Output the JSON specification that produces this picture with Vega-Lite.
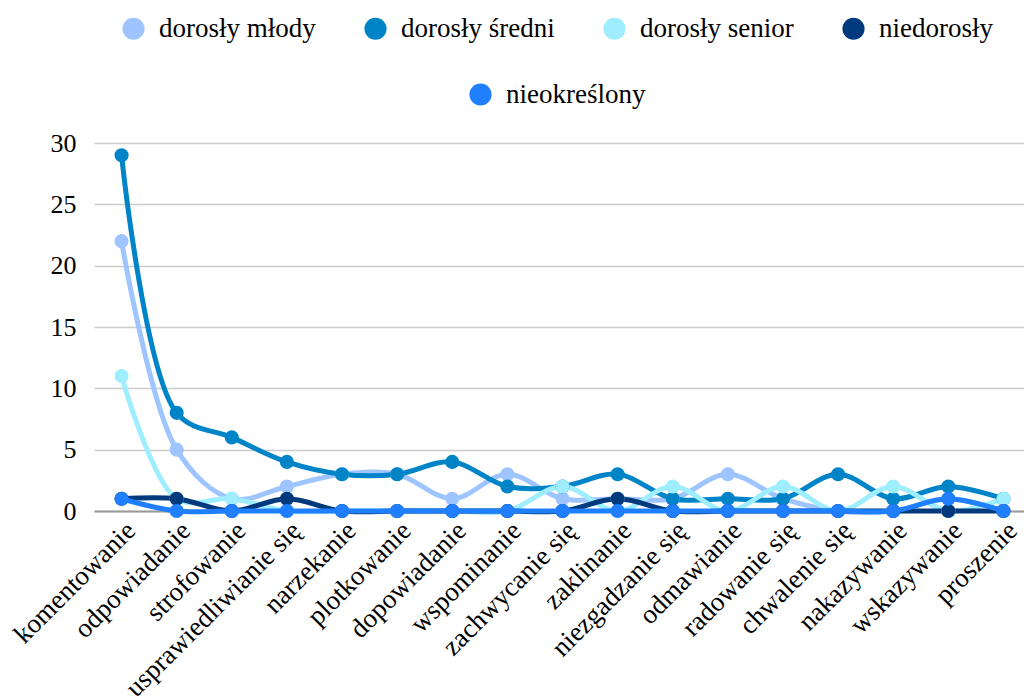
{
  "$schema": "https://vega.github.io/schema/vega-lite/v6.json",
  "width": 937,
  "height": 368,
  "autosize": {"type": "none"},
  "padding": {"left": 94, "top": 143, "right": 0, "bottom": 189},
  "background": "white",
  "config": {
    "font": "Liberation Serif",
    "view": {"stroke": null},
    "axis": {"labelFont": "Liberation Serif", "labelColor": "#000000"},
    "legend": {"labelFont": "Liberation Serif", "labelColor": "#000000"}
  },
  "data": {
    "values": [
      {"kategoria": "komentowanie", "grupa": "dorosły młody", "wartosc": 22},
      {"kategoria": "odpowiadanie", "grupa": "dorosły młody", "wartosc": 5},
      {"kategoria": "strofowanie", "grupa": "dorosły młody", "wartosc": 1},
      {"kategoria": "usprawiedliwianie się", "grupa": "dorosły młody", "wartosc": 2},
      {"kategoria": "narzekanie", "grupa": "dorosły młody", "wartosc": 3},
      {"kategoria": "plotkowanie", "grupa": "dorosły młody", "wartosc": 3},
      {"kategoria": "dopowiadanie", "grupa": "dorosły młody", "wartosc": 1},
      {"kategoria": "wspominanie", "grupa": "dorosły młody", "wartosc": 3},
      {"kategoria": "zachwycanie się", "grupa": "dorosły młody", "wartosc": 1},
      {"kategoria": "zaklinanie", "grupa": "dorosły młody", "wartosc": 1},
      {"kategoria": "niezgadzanie się", "grupa": "dorosły młody", "wartosc": 1},
      {"kategoria": "odmawianie", "grupa": "dorosły młody", "wartosc": 3},
      {"kategoria": "radowanie się", "grupa": "dorosły młody", "wartosc": 1},
      {"kategoria": "chwalenie się", "grupa": "dorosły młody", "wartosc": 0},
      {"kategoria": "nakazywanie", "grupa": "dorosły młody", "wartosc": 0},
      {"kategoria": "wskazywanie", "grupa": "dorosły młody", "wartosc": 1},
      {"kategoria": "proszenie", "grupa": "dorosły młody", "wartosc": 0},

      {"kategoria": "komentowanie", "grupa": "dorosły średni", "wartosc": 29},
      {"kategoria": "odpowiadanie", "grupa": "dorosły średni", "wartosc": 8},
      {"kategoria": "strofowanie", "grupa": "dorosły średni", "wartosc": 6},
      {"kategoria": "usprawiedliwianie się", "grupa": "dorosły średni", "wartosc": 4},
      {"kategoria": "narzekanie", "grupa": "dorosły średni", "wartosc": 3},
      {"kategoria": "plotkowanie", "grupa": "dorosły średni", "wartosc": 3},
      {"kategoria": "dopowiadanie", "grupa": "dorosły średni", "wartosc": 4},
      {"kategoria": "wspominanie", "grupa": "dorosły średni", "wartosc": 2},
      {"kategoria": "zachwycanie się", "grupa": "dorosły średni", "wartosc": 2},
      {"kategoria": "zaklinanie", "grupa": "dorosły średni", "wartosc": 3},
      {"kategoria": "niezgadzanie się", "grupa": "dorosły średni", "wartosc": 1},
      {"kategoria": "odmawianie", "grupa": "dorosły średni", "wartosc": 1},
      {"kategoria": "radowanie się", "grupa": "dorosły średni", "wartosc": 1},
      {"kategoria": "chwalenie się", "grupa": "dorosły średni", "wartosc": 3},
      {"kategoria": "nakazywanie", "grupa": "dorosły średni", "wartosc": 1},
      {"kategoria": "wskazywanie", "grupa": "dorosły średni", "wartosc": 2},
      {"kategoria": "proszenie", "grupa": "dorosły średni", "wartosc": 1},

      {"kategoria": "komentowanie", "grupa": "dorosły senior", "wartosc": 11},
      {"kategoria": "odpowiadanie", "grupa": "dorosły senior", "wartosc": 1},
      {"kategoria": "strofowanie", "grupa": "dorosły senior", "wartosc": 1},
      {"kategoria": "usprawiedliwianie się", "grupa": "dorosły senior", "wartosc": 0},
      {"kategoria": "narzekanie", "grupa": "dorosły senior", "wartosc": 0},
      {"kategoria": "plotkowanie", "grupa": "dorosły senior", "wartosc": 0},
      {"kategoria": "dopowiadanie", "grupa": "dorosły senior", "wartosc": 0},
      {"kategoria": "wspominanie", "grupa": "dorosły senior", "wartosc": 0},
      {"kategoria": "zachwycanie się", "grupa": "dorosły senior", "wartosc": 2},
      {"kategoria": "zaklinanie", "grupa": "dorosły senior", "wartosc": 0},
      {"kategoria": "niezgadzanie się", "grupa": "dorosły senior", "wartosc": 2},
      {"kategoria": "odmawianie", "grupa": "dorosły senior", "wartosc": 0},
      {"kategoria": "radowanie się", "grupa": "dorosły senior", "wartosc": 2},
      {"kategoria": "chwalenie się", "grupa": "dorosły senior", "wartosc": 0},
      {"kategoria": "nakazywanie", "grupa": "dorosły senior", "wartosc": 2},
      {"kategoria": "wskazywanie", "grupa": "dorosły senior", "wartosc": 0},
      {"kategoria": "proszenie", "grupa": "dorosły senior", "wartosc": 1},

      {"kategoria": "komentowanie", "grupa": "niedorosły", "wartosc": 1},
      {"kategoria": "odpowiadanie", "grupa": "niedorosły", "wartosc": 1},
      {"kategoria": "strofowanie", "grupa": "niedorosły", "wartosc": 0},
      {"kategoria": "usprawiedliwianie się", "grupa": "niedorosły", "wartosc": 1},
      {"kategoria": "narzekanie", "grupa": "niedorosły", "wartosc": 0},
      {"kategoria": "plotkowanie", "grupa": "niedorosły", "wartosc": 0},
      {"kategoria": "dopowiadanie", "grupa": "niedorosły", "wartosc": 0},
      {"kategoria": "wspominanie", "grupa": "niedorosły", "wartosc": 0},
      {"kategoria": "zachwycanie się", "grupa": "niedorosły", "wartosc": 0},
      {"kategoria": "zaklinanie", "grupa": "niedorosły", "wartosc": 1},
      {"kategoria": "niezgadzanie się", "grupa": "niedorosły", "wartosc": 0},
      {"kategoria": "odmawianie", "grupa": "niedorosły", "wartosc": 0},
      {"kategoria": "radowanie się", "grupa": "niedorosły", "wartosc": 0},
      {"kategoria": "chwalenie się", "grupa": "niedorosły", "wartosc": 0},
      {"kategoria": "nakazywanie", "grupa": "niedorosły", "wartosc": 0},
      {"kategoria": "wskazywanie", "grupa": "niedorosły", "wartosc": 0},
      {"kategoria": "proszenie", "grupa": "niedorosły", "wartosc": 0},

      {"kategoria": "komentowanie", "grupa": "nieokreślony", "wartosc": 1},
      {"kategoria": "odpowiadanie", "grupa": "nieokreślony", "wartosc": 0},
      {"kategoria": "strofowanie", "grupa": "nieokreślony", "wartosc": 0},
      {"kategoria": "usprawiedliwianie się", "grupa": "nieokreślony", "wartosc": 0},
      {"kategoria": "narzekanie", "grupa": "nieokreślony", "wartosc": 0},
      {"kategoria": "plotkowanie", "grupa": "nieokreślony", "wartosc": 0},
      {"kategoria": "dopowiadanie", "grupa": "nieokreślony", "wartosc": 0},
      {"kategoria": "wspominanie", "grupa": "nieokreślony", "wartosc": 0},
      {"kategoria": "zachwycanie się", "grupa": "nieokreślony", "wartosc": 0},
      {"kategoria": "zaklinanie", "grupa": "nieokreślony", "wartosc": 0},
      {"kategoria": "niezgadzanie się", "grupa": "nieokreślony", "wartosc": 0},
      {"kategoria": "odmawianie", "grupa": "nieokreślony", "wartosc": 0},
      {"kategoria": "radowanie się", "grupa": "nieokreślony", "wartosc": 0},
      {"kategoria": "chwalenie się", "grupa": "nieokreślony", "wartosc": 0},
      {"kategoria": "nakazywanie", "grupa": "nieokreślony", "wartosc": 0},
      {"kategoria": "wskazywanie", "grupa": "nieokreślony", "wartosc": 1},
      {"kategoria": "proszenie", "grupa": "nieokreślony", "wartosc": 0}
    ]
  },
  "encoding": {
    "x": {
      "field": "kategoria",
      "type": "nominal",
      "sort": null,
      "title": null,
      "axis": {
        "labelAngle": -45,
        "labelFont": "Liberation Serif",
        "labelFontSize": 27,
        "labelLimit": 400,
        "ticks": false,
        "domainColor": "#9a9a9a",
        "domainWidth": 2,
        "labelPadding": 6,
        "grid": false
      }
    },
    "y": {
      "field": "wartosc",
      "type": "quantitative",
      "title": null,
      "scale": {"domain": [0, 30], "nice": false},
      "axis": {
        "values": [0, 5, 10, 15, 20, 25, 30],
        "labelFont": "Liberation Serif",
        "labelFontSize": 26,
        "ticks": false,
        "domain": false,
        "labelPadding": 18,
        "gridColor": "#cccccc",
        "gridWidth": 1.5
      }
    }
  },
  "layer": [
    {
      "transform": [{"filter": "datum.grupa !== 'nieokreślony'"}],
      "mark": {"type": "line", "interpolate": "catmull-rom", "strokeWidth": 5, "point": {"filled": true, "size": 200, "opacity": 1}},
      "encoding": {
        "color": {
          "field": "grupa",
          "type": "nominal",
          "scale": {
            "domain": ["dorosły młody", "dorosły średni", "dorosły senior", "niedorosły"],
            "range": ["#9EC5FF", "#0084C8", "#9EEEFF", "#00397C"]
          },
          "legend": {
            "title": null,
            "orient": "none",
            "direction": "horizontal",
            "legendX": 26,
            "legendY": -128,
            "symbolType": "circle",
            "symbolSize": 490,
            "symbolStrokeWidth": 0,
            "labelFont": "Liberation Serif",
            "labelFontSize": 27,
            "labelOffset": 12,
            "columnPadding": 46,
            "labelLimit": 400
          }
        }
      }
    },
    {
      "transform": [{"filter": "datum.grupa === 'nieokreślony'"}],
      "mark": {"type": "line", "interpolate": "catmull-rom", "strokeWidth": 5, "point": {"filled": true, "size": 200, "opacity": 1}},
      "encoding": {
        "color": {
          "field": "grupa",
          "type": "nominal",
          "scale": {"domain": ["nieokreślony"], "range": ["#1F7FFF"]},
          "legend": {
            "title": null,
            "orient": "none",
            "direction": "horizontal",
            "legendX": 373,
            "legendY": -62,
            "symbolType": "circle",
            "symbolSize": 490,
            "symbolStrokeWidth": 0,
            "labelFont": "Liberation Serif",
            "labelFontSize": 27,
            "labelOffset": 12,
            "labelLimit": 400
          }
        }
      }
    }
  ],
  "resolve": {"scale": {"color": "independent"}, "legend": {"color": "independent"}}
}
